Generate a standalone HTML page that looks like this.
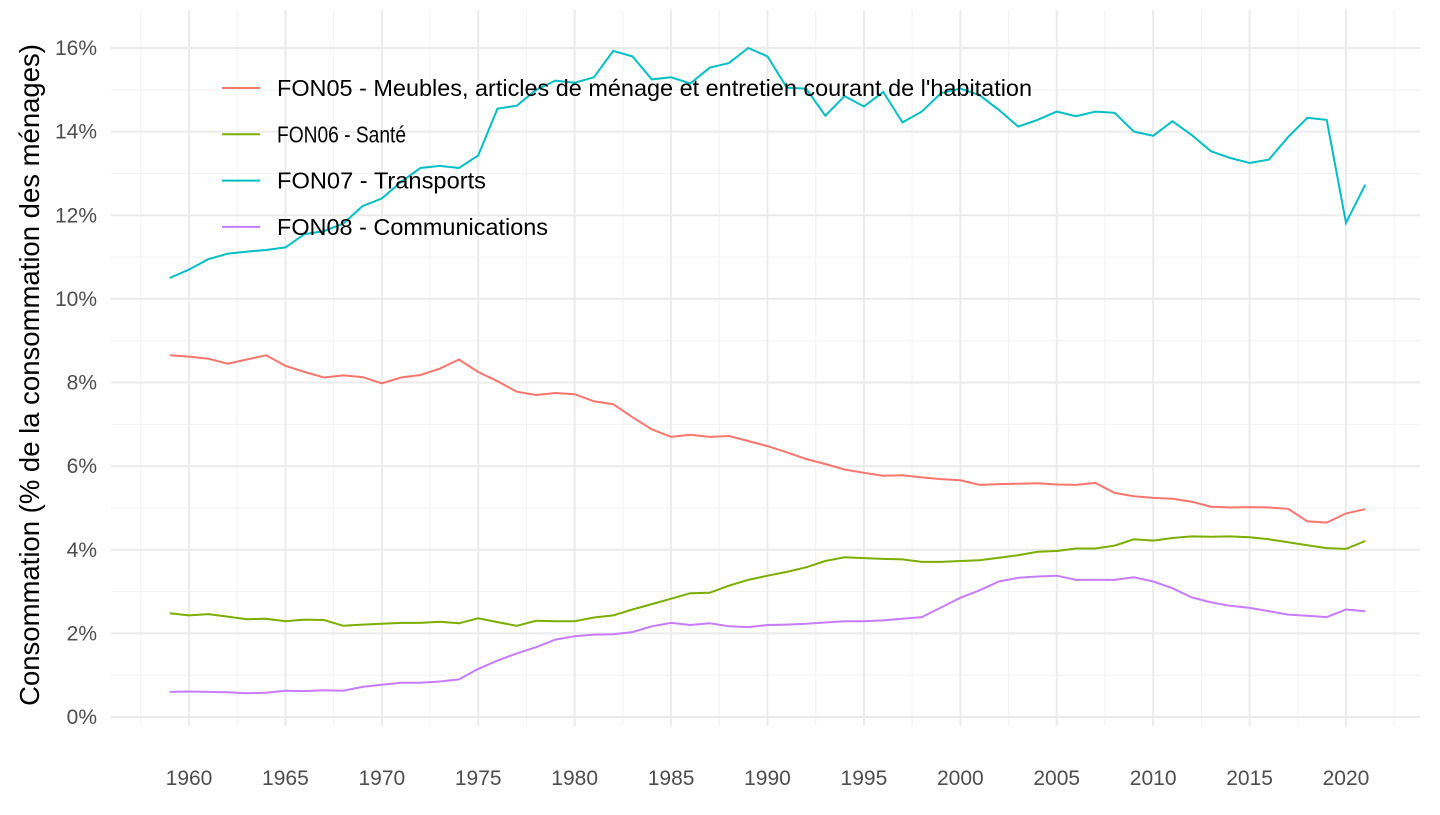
<!DOCTYPE html>
<html><head><meta charset="utf-8"><style>
html,body{margin:0;padding:0;background:#fff;}
svg text{font-family:"Liberation Sans",sans-serif;}
</style></head><body>
<svg id="s" width="1440" height="810" xmlns="http://www.w3.org/2000/svg"></svg>
<script>
const s=document.getElementById('s');
const X=y=>189+(y-1960)*19.2833, Y=v=>717-v*41.8125;
let h='';
for(let v=1;v<=15;v+=2) h+=`<line x1="111" x2="1420" y1="${Y(v)}" y2="${Y(v)}" stroke="#f2f2f2" stroke-width="1"/>`;
for(let y=1957.5;y<=2025;y+=5) h+=`<line y1="10" y2="726" x1="${X(y)}" x2="${X(y)}" stroke="#f2f2f2" stroke-width="1"/>`;
for(let v=0;v<=16;v+=2) h+=`<line x1="111" x2="1420" y1="${Y(v)}" y2="${Y(v)}" stroke="#ebebeb" stroke-width="2"/>`;
for(let y=1960;y<=2020;y+=5) h+=`<line y1="10" y2="726" x1="${X(y)}" x2="${X(y)}" stroke="#ebebeb" stroke-width="2"/>`;
for(let v=0;v<=16;v+=2) h+=`<text x="97" y="${Y(v)+7}" text-anchor="end" font-size="21" fill="#4d4d4d">${v}%</text>`;
for(let y=1960;y<=2020;y+=5) h+=`<text x="${X(y)}" y="785" text-anchor="middle" font-size="21" fill="#4d4d4d">${y}</text>`;
h+=`<text transform="translate(39,375) rotate(-90)" text-anchor="middle" font-size="27.5" fill="#000">Consommation (% de la consommation des ménages)</text>`;
const d={
"#f8766d":[8.65,8.62,8.57,8.45,8.55,8.65,8.4,8.25,8.12,8.17,8.13,7.98,8.12,8.18,8.33,8.55,8.25,8.03,7.78,7.7,7.75,7.72,7.55,7.48,7.17,6.88,6.7,6.75,6.7,6.72,6.6,6.48,6.33,6.17,6.05,5.92,5.84,5.77,5.78,5.73,5.69,5.66,5.55,5.57,5.58,5.59,5.56,5.55,5.6,5.36,5.28,5.24,5.22,5.15,5.03,5.01,5.02,5.01,4.98,4.68,4.65,4.87,4.97],
"#7cae00":[2.48,2.43,2.46,2.4,2.34,2.35,2.29,2.33,2.32,2.18,2.21,2.23,2.25,2.25,2.28,2.24,2.36,2.27,2.18,2.3,2.29,2.29,2.38,2.43,2.57,2.7,2.83,2.96,2.97,3.14,3.28,3.38,3.47,3.58,3.73,3.82,3.8,3.78,3.77,3.71,3.71,3.73,3.75,3.81,3.87,3.95,3.97,4.03,4.03,4.1,4.25,4.22,4.28,4.32,4.31,4.32,4.3,4.25,4.18,4.11,4.04,4.02,4.21],
"#00bfc4":[10.5,10.7,10.95,11.08,11.13,11.17,11.23,11.55,11.62,11.8,12.22,12.4,12.8,13.13,13.18,13.13,13.43,14.55,14.62,15.0,15.22,15.17,15.3,15.93,15.8,15.25,15.3,15.15,15.53,15.64,16.0,15.8,15.05,15.03,14.38,14.85,14.6,14.95,14.22,14.48,14.92,15.03,14.87,14.52,14.12,14.28,14.48,14.37,14.48,14.45,14.0,13.9,14.25,13.92,13.53,13.37,13.25,13.33,13.87,14.33,14.28,11.82,12.73],
"#c77cff":[0.6,0.61,0.6,0.59,0.57,0.58,0.63,0.62,0.64,0.63,0.72,0.77,0.82,0.82,0.85,0.9,1.15,1.35,1.52,1.67,1.85,1.93,1.97,1.98,2.03,2.17,2.25,2.2,2.24,2.17,2.15,2.2,2.21,2.23,2.26,2.29,2.29,2.31,2.35,2.39,2.62,2.85,3.03,3.24,3.33,3.36,3.38,3.28,3.28,3.28,3.34,3.24,3.08,2.86,2.74,2.66,2.61,2.53,2.45,2.42,2.39,2.57,2.53]};
for(const c in d){h+=`<polyline fill="none" stroke="${c}" stroke-width="2" points="${d[c].map((v,i)=>X(1959+i).toFixed(1)+','+Y(v).toFixed(1)).join(' ')}"/>`;}
const L=[["#f8766d","FON05 - Meubles, articles de ménage et entretien courant de l'habitation"],["#7cae00","FON06 - Santé"],["#00bfc4","FON07 - Transports"],["#c77cff","FON08 - Communications"]];
L.forEach((l,i)=>{const y=88+i*46.3;h+=`<line x1="222" x2="260" y1="${y}" y2="${y}" stroke="${l[0]}" stroke-width="2"/><text x="277" y="${y+8}" font-size="23" textLength="${[755,129,209,271][i]}" lengthAdjust="spacingAndGlyphs" fill="#000">${l[1]}</text>`;});
s.innerHTML=h;
</script>
</body></html>
